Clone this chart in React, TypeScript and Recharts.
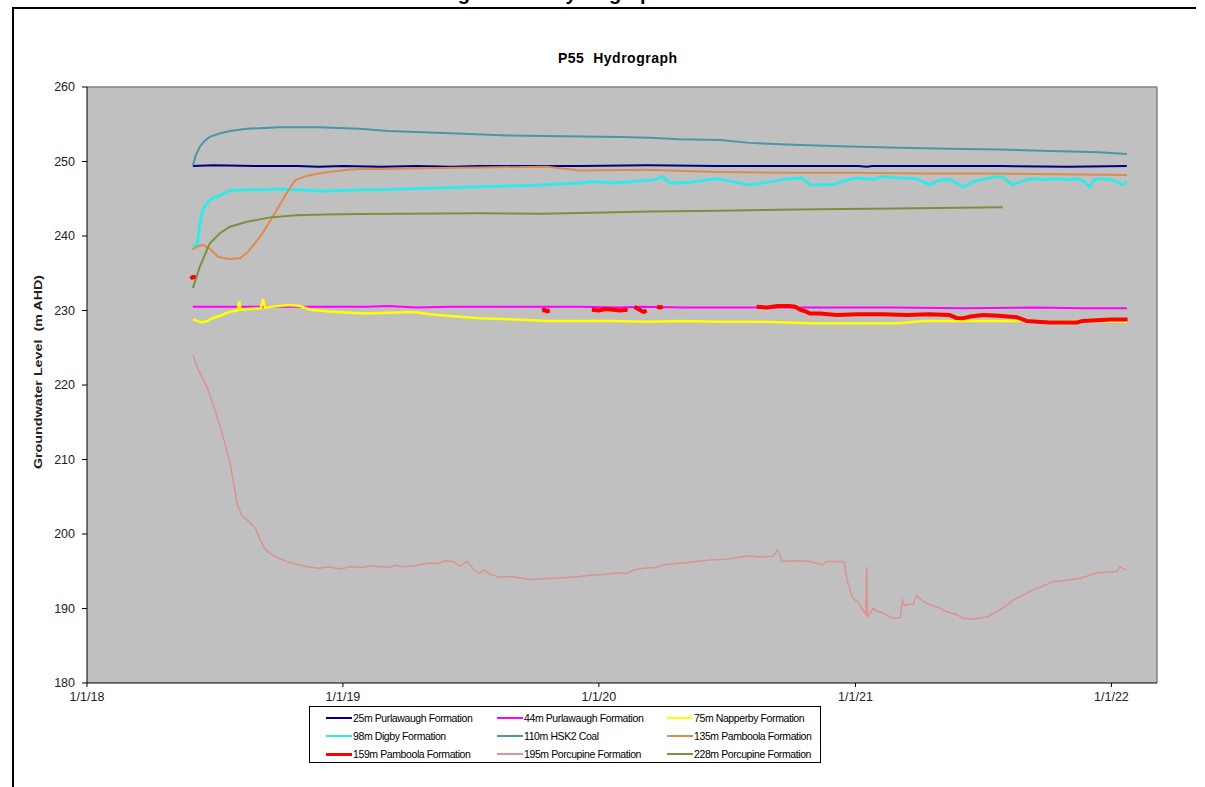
import React from 'react'
import { LineChart, Line, XAxis, YAxis, CartesianGrid, ReferenceLine } from 'recharts'

// x values are days since 1/1/18
const xTicks = [0, 365, 730, 1096, 1461]
const xTickLabels = ['1/1/18', '1/1/19', '1/1/20', '1/1/21', '1/1/22']
const yTicks = [180, 190, 200, 210, 220, 230, 240, 250, 260]

const p25Days = [151, 180, 240, 300, 330, 365, 420, 470, 520, 560, 620, 700, 800, 900, 1000, 1100, 1112, 1120, 1200, 1300, 1400, 1483]
const p25Level = [249.4, 249.5, 249.4, 249.4, 249.3, 249.4, 249.3, 249.4, 249.3, 249.4, 249.4, 249.4, 249.5, 249.4, 249.4, 249.4, 249.3, 249.4, 249.4, 249.4, 249.3, 249.4]

const p44Days = [151, 200, 300, 400, 430, 470, 520, 600, 700, 760, 790, 850, 950, 1050, 1150, 1250, 1350, 1420, 1483]
const p44Level = [230.5, 230.5, 230.5, 230.5, 230.6, 230.4, 230.5, 230.5, 230.5, 230.4, 230.5, 230.4, 230.4, 230.4, 230.4, 230.3, 230.4, 230.3, 230.3]

const p75Days = [151, 157, 164, 172, 180, 190, 200, 208, 215, 217, 219, 230, 248, 251, 254, 262, 289, 304, 318, 346, 394, 430, 465, 490, 513, 560, 610, 656, 700, 750, 800, 845, 900, 950, 1000, 1031, 1080, 1130, 1159, 1192, 1230, 1278, 1330, 1380, 1430, 1483]
const p75Level = [228.8, 228.6, 228.4, 228.6, 229.0, 229.3, 229.7, 229.9, 230.0, 231.2, 230.1, 230.2, 230.3, 231.5, 230.4, 230.5, 230.75, 230.6, 230.1, 229.85, 229.6, 229.7, 229.8, 229.5, 229.3, 228.95, 228.8, 228.6, 228.6, 228.6, 228.5, 228.6, 228.5, 228.5, 228.4, 228.3, 228.3, 228.3, 228.3, 228.6, 228.6, 228.6, 228.6, 228.5, 228.6, 228.5]

const p98Days = [150, 157, 161, 165, 170, 175, 182, 190, 204, 230, 251, 275, 300, 322, 332, 365, 390, 418, 450, 490, 520, 560, 600, 640, 680, 703, 720, 750, 780, 803, 812, 821, 831, 860, 898, 920, 945, 970, 1002, 1020, 1031, 1064, 1080, 1098, 1120, 1135, 1160, 1183, 1202, 1215, 1230, 1249, 1265, 1278, 1297, 1306, 1320, 1335, 1349, 1365, 1383, 1400, 1412, 1422, 1430, 1436, 1444, 1460, 1477, 1483]
const p98Level = [238.6, 238.8, 241.5, 243.5, 244.3, 244.8, 245.2, 245.5, 246.1, 246.2, 246.2, 246.3, 246.2, 246.1, 246.0, 246.1, 246.2, 246.2, 246.3, 246.4, 246.5, 246.6, 246.7, 246.8, 247.0, 247.1, 247.3, 247.1, 247.3, 247.5, 247.6, 248.0, 247.1, 247.2, 247.7, 247.3, 246.85, 247.2, 247.7, 247.8, 246.85, 246.9, 247.4, 247.8, 247.6, 248.0, 247.8, 247.7, 246.85, 247.5, 247.6, 246.6, 247.3, 247.6, 248.0, 247.9, 246.85, 247.4, 247.7, 247.6, 247.7, 247.6, 247.7, 247.3, 246.6, 247.5, 247.7, 247.6, 246.9, 247.3]

const p110Days = [151, 155, 161, 168, 175, 190, 204, 228, 275, 330, 389, 430, 518, 600, 680, 760, 803, 845, 903, 945, 1017, 1088, 1159, 1230, 1302, 1373, 1444, 1483]
const p110Level = [249.5, 250.8, 252.0, 252.8, 253.3, 253.8, 254.1, 254.4, 254.6, 254.6, 254.4, 254.1, 253.8, 253.5, 253.4, 253.3, 253.2, 253.0, 252.9, 252.5, 252.2, 252.0, 251.85, 251.7, 251.6, 251.4, 251.25, 251.0]

const p135Days = [150, 158, 165, 175, 187, 204, 218, 228, 247, 265, 285, 297, 314, 336, 371, 389, 418, 480, 560, 656, 703, 798, 900, 1000, 1088, 1200, 1278, 1380, 1483]
const p135Level = [238.2, 238.6, 238.8, 238.3, 237.2, 236.9, 237.0, 237.7, 239.9, 242.6, 245.8, 247.5, 248.1, 248.5, 248.9, 249.0, 249.0, 249.1, 249.2, 249.3, 248.8, 248.9, 248.6, 248.5, 248.5, 248.4, 248.4, 248.3, 248.2]

// gaps in the logger record are null
const p159Days = [148, 150, 153, 155, 156, 649, 652, 656, 660, 662, 720, 730, 740, 750, 760, 771, 775, 781, 786, 790, 794, 798, 805, 813, 817, 821, 840, 955, 970, 985, 1002, 1010, 1017, 1024, 1031, 1045, 1069, 1100, 1135, 1170, 1200, 1230, 1240, 1249, 1260, 1278, 1300, 1326, 1340, 1356, 1373, 1390, 1412, 1420, 1440, 1459, 1484]
const p159Level = [234.6, 234.4, 234.5, 234.3, null, 230.0, 230.1, 229.9, 230.0, null, 230.1, 230.0, 230.2, 230.1, 230.0, 230.1, null, 230.5, 230.2, 230.0, 229.8, 230.0, null, 230.5, 230.4, 230.5, null, 230.5, 230.4, 230.6, 230.6, 230.5, 230.1, 229.9, 229.6, 229.6, 229.4, 229.5, 229.5, 229.4, 229.5, 229.4, 229.0, 228.95, 229.2, 229.4, 229.3, 229.1, 228.6, 228.5, 228.4, 228.4, 228.4, 228.6, 228.7, 228.8, 228.8]

const p195Days = [151, 160, 171, 183, 194, 204, 215, 222, 228, 235, 240, 247, 254, 261, 272, 285, 300, 314, 330, 345, 361, 375, 390, 405, 418, 430, 440, 450, 465, 477, 489, 500, 510, 522, 532, 542, 552, 560, 565, 575, 589, 605, 632, 650, 674, 703, 721, 740, 760, 770, 781, 793, 810, 825, 841, 860, 888, 910, 925, 941, 960, 978, 985, 988, 991, 1010, 1031, 1049, 1055, 1076, 1080, 1084, 1092, 1100, 1108, 1111, 1112, 1113, 1114, 1121, 1126, 1135, 1149, 1160, 1163, 1166, 1172, 1178, 1183, 1192, 1202, 1215, 1226, 1240, 1249, 1262, 1273, 1285, 1297, 1310, 1320, 1335, 1349, 1363, 1377, 1390, 1405, 1416, 1428, 1440, 1455, 1469, 1473, 1478, 1483]
const p195Level = [224.0, 221.8, 219.8, 216.5, 213.1, 209.5, 203.7, 202.3, 201.9, 201.3, 200.8, 199.2, 198.0, 197.4, 196.8, 196.3, 195.9, 195.6, 195.4, 195.6, 195.3, 195.6, 195.5, 195.7, 195.6, 195.5, 195.8, 195.6, 195.7, 195.9, 196.1, 196.0, 196.4, 196.3, 195.7, 196.3, 195.2, 194.7, 195.2, 194.6, 194.2, 194.3, 193.9, 194.0, 194.1, 194.3, 194.5, 194.6, 194.8, 194.7, 195.2, 195.4, 195.5, 195.9, 196.05, 196.2, 196.5, 196.6, 196.8, 197.05, 196.9, 197.0, 197.85, 197.3, 196.3, 196.4, 196.3, 195.85, 196.3, 196.3, 196.2, 193.8, 191.4, 190.8, 189.6, 189.1, 195.6, 189.3, 189.0, 190.0, 189.7, 189.4, 188.7, 188.8, 191.1, 190.4, 190.6, 190.5, 191.7, 191.0, 190.5, 190.1, 189.6, 189.2, 188.7, 188.6, 188.7, 188.9, 189.6, 190.3, 191.1, 191.8, 192.5, 193.0, 193.6, 193.7, 193.9, 194.05, 194.4, 194.8, 194.9, 194.95, 195.6, 195.3, 195.2]

const p228Days = [151, 161, 175, 190, 204, 228, 261, 299, 340, 389, 450, 560, 650, 703, 803, 900, 1041, 1150, 1306]
const p228Level = [233.0, 235.9, 239.0, 240.4, 241.25, 241.9, 242.5, 242.8, 242.9, 242.95, 243.0, 243.05, 243.0, 243.1, 243.3, 243.4, 243.6, 243.7, 243.85]

const toRows = (days: number[], levels: (number | null)[]) =>
  days.map((day, i) => ({ day, level: levels[i] }))

const series = [
  { name: '25m Purlawaugh Formation', color: '#000080', width: 2, data: toRows(p25Days, p25Level) },
  { name: '44m Purlawaugh Formation', color: '#FF00FF', width: 2, data: toRows(p44Days, p44Level) },
  { name: '75m Napperby Formation', color: '#FFFF00', width: 2.5, data: toRows(p75Days, p75Level) },
  { name: '98m Digby Formation', color: '#33E8E8', width: 3, data: toRows(p98Days, p98Level) },
  { name: '110m HSK2 Coal', color: '#4A96A6', width: 2, data: toRows(p110Days, p110Level) },
  { name: '135m Pamboola Formation', color: '#E08A4E', width: 2, data: toRows(p135Days, p135Level) },
  { name: '159m Pamboola Formation', color: '#FF0000', width: 4, data: toRows(p159Days, p159Level) },
  { name: '195m Porcupine Formation', color: '#DB9290', width: 1.5, data: toRows(p195Days, p195Level) },
  { name: '228m Porcupine Formation', color: '#77913F', width: 2, data: toRows(p228Days, p228Level) },
]

const FONT = 'Arial, "Liberation Sans", sans-serif'
const tickStyle = { fontSize: 12.5, fill: '#222', fontFamily: FONT }

const App = () => {
  return (
    <div style={{ position: 'absolute', left: 0, top: 0, width: 1205, height: 787, background: '#fff', overflow: 'hidden', fontFamily: FONT }}>
      {/* page heading above the frame, only its lowest pixels show */}
      <div style={{ position: 'absolute', left: 0, top: 0, width: 1205, height: 7, overflow: 'hidden' }}>
        <div style={{ position: 'absolute', left: 440, top: -18, fontSize: 20, fontWeight: 'bold', whiteSpace: 'pre', color: '#000' }}>
          {'Figure 12    Hydrograph  P55'}
        </div>
      </div>
      <div style={{ position: 'absolute', left: 12, top: 7, width: 1184, height: 2, background: '#000' }} />
      <div style={{ position: 'absolute', left: 12, top: 7, width: 2, height: 780, background: '#000' }} />

      <div style={{ position: 'absolute', left: 558, top: 50, fontSize: 14, fontWeight: 'bold', letterSpacing: 0.5, whiteSpace: 'pre' }}>
        {'P55  Hydrograph'}
      </div>

      <div style={{ position: 'absolute', left: 38, top: 372, transform: 'translate(-50%, -50%) rotate(-90deg) scaleX(1.3)', fontSize: 11, fontWeight: 'bold', whiteSpace: 'pre', color: '#222' }}>
        {'Groundwater Level  (m AHD)'}
      </div>

      <div style={{ position: 'absolute', left: 0, top: 0 }}>
        <LineChart width={1205} height={787} margin={{ top: 87, right: 48, bottom: 82, left: 0 }}>
          <CartesianGrid horizontal={false} vertical={false} fill="#C0C0C0" />
          <XAxis
            dataKey="day"
            type="number"
            domain={[0, 1526]}
            allowDataOverflow
            ticks={xTicks}
            tickFormatter={(v: number) => xTickLabels[xTicks.indexOf(v)] ?? ''}
            height={22}
            tickSize={4}
            tickMargin={5}
            stroke="#000"
            tick={tickStyle}
          />
          <YAxis
            type="number"
            domain={[180, 260]}
            ticks={yTicks}
            width={87}
            tickSize={5}
            tickMargin={7}
            stroke="#000"
            tick={tickStyle}
          />
          <ReferenceLine y={260} stroke="#808080" strokeWidth={1.5} />
          <ReferenceLine x={1526} stroke="#808080" strokeWidth={1.5} />
          {series.map((s) => (
            <Line
              key={s.name}
              data={s.data}
              dataKey="level"
              name={s.name}
              type="linear"
              stroke={s.color}
              strokeWidth={s.width}
              dot={false}
              activeDot={false}
              connectNulls={false}
              isAnimationActive={false}
            />
          ))}
        </LineChart>
      </div>

      <div style={{ position: 'absolute', left: 309, top: 706, width: 512, height: 57, border: '1px solid #000', boxSizing: 'border-box', background: '#fff' }}>
        {series.map((s, i) => (
          <div
            key={s.name}
            style={{ position: 'absolute', left: [16, 187, 357][i % 3], top: 3 + Math.floor(i / 3) * 18, height: 16, display: 'flex', alignItems: 'center', fontSize: 10.5, letterSpacing: -0.4, color: '#000', whiteSpace: 'nowrap' }}
          >
            <div style={{ width: 26, height: s.width >= 4 ? 3 : 2, background: s.color }} />
            <span style={{ marginLeft: 1 }}>{s.name}</span>
          </div>
        ))}
      </div>
    </div>
  )
}

export default App
